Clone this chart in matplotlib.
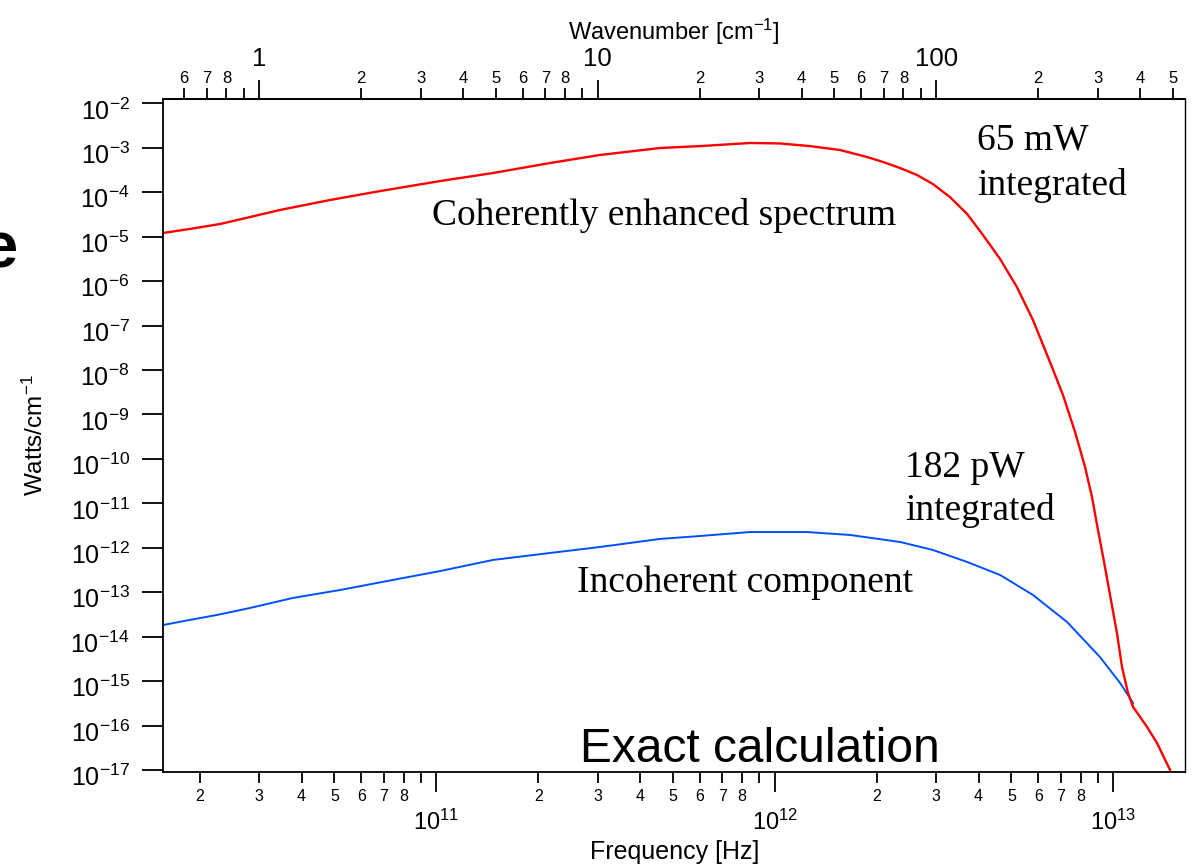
import numpy as np
import matplotlib
matplotlib.use("Agg")
import matplotlib.pyplot as plt
import matplotlib.transforms as mtransforms
from matplotlib.ticker import FuncFormatter, NullLocator

# values: frequency [Hz] and power [W/cm^-1]
freq_coh = [1.56e10, 1.87e10, 2.30e10, 2.82e10, 3.45e10, 4.85e10, 6.82e10, 1.03e11,
            1.47e11, 2.17e11, 3.04e11, 4.58e11, 6.01e11, 8.45e11, 1.036e12, 1.27e12,
            1.558e12, 1.873e12, 2.09e12, 2.344e12, 2.63e12, 2.93e12, 3.29e12, 3.70e12,
            4.12e12, 4.63e12, 5.19e12, 5.79e12, 6.50e12, 7.10e12, 7.71e12, 8.25e12,
            8.65e12, 9.01e12, 9.39e12, 9.78e12, 1.025e13, 1.061e13, 1.105e13, 1.144e13,
            1.258e13, 1.346e13, 1.471e13]
watts_coh = [1.21e-5, 1.49e-5, 1.93e-5, 2.77e-5, 3.98e-5, 6.67e-5, 1.06e-4, 1.79e-4,
             2.70e-4, 4.54e-4, 6.87e-4, 9.87e-4, 1.09e-3, 1.28e-3, 1.25e-3, 1.09e-3,
             8.90e-4, 6.19e-4, 4.78e-4, 3.50e-4, 2.44e-4, 1.53e-4, 7.80e-5, 3.24e-5,
             1.09e-5, 3.14e-6, 7.36e-7, 1.33e-7, 1.51e-8, 2.74e-9, 4.03e-10, 6.58e-11,
             1.39e-11, 2.51e-12, 4.80e-13, 8.67e-14, 1.21e-14, 2.08e-15, 5.41e-16, 2.62e-16,
             9.31e-17, 4.06e-17, 1.00e-17]

freq_inc = [1.56e10, 1.87e10, 2.25e10, 2.82e10, 3.77e10, 5.19e10, 7.45e10, 1.03e11,
            1.47e11, 2.17e11, 3.04e11, 4.58e11, 6.01e11, 8.45e11, 1.245e12, 1.67e12,
            2.344e12, 2.93e12, 3.70e12, 4.63e12, 5.79e12, 7.30e12, 9.13e12, 1.047e13,
            1.144e13]
watts_inc = [1.83e-14, 2.38e-14, 3.08e-14, 4.43e-14, 7.43e-14, 1.12e-13, 1.89e-13, 3.01e-13,
             5.32e-13, 7.64e-13, 1.04e-12, 1.58e-12, 1.84e-12, 2.26e-12, 2.26e-12, 1.94e-12,
             1.35e-12, 8.93e-13, 4.79e-13, 2.44e-13, 8.67e-14, 2.14e-14, 3.49e-15, 9.08e-16,
             3.22e-16]

# tick values
y_decades = list(range(-17, -1))
freq_decades = [10, 11, 12, 13]
wn_decades = [-1, 0, 1, 2]
c_cm = 2.998e10  # cm/s, Hz -> cm^-1

plt.rcParams['font.family'] = ['Liberation Sans', 'DejaVu Sans']
plt.rcParams['mathtext.fontset'] = 'custom'
plt.rcParams['mathtext.rm'] = 'Liberation Sans'
plt.rcParams['mathtext.it'] = 'Liberation Sans:italic'
plt.rcParams['mathtext.bf'] = 'Liberation Sans:bold'

W, H = 1192, 867
def px(x, y):
    return x / W, 1 - y / H

fig = plt.figure(figsize=(W / 100, H / 100), dpi=100)
ax = fig.add_axes([163 / W, 1 - 772 / H, (1185 - 163) / W, (772 - 99) / H])

ax.plot(freq_inc, watts_inc, color='#0050ff', lw=1.4)
ax.plot(freq_coh, watts_coh, color='#ff0000', lw=1.7)

ax.set_xscale('log')
ax.set_yscale('log')
xlo, xhi = 10 ** 10.1926, 10 ** 13.2118
ax.set_xlim(xlo, xhi)
ax.set_ylim(10 ** -17.045, 10 ** -1.903)

for s in ax.spines.values():
    s.set_linewidth(1.3)
ax.spines['right'].set_linewidth(1.0)


def decade_label(v, pos):
    return r'$\mathregular{10^{%d}}$' % int(round(np.log10(v)))


def mantissa_label(v, pos):
    m = v / 10 ** np.floor(np.log10(v) + 1e-9)
    m = int(round(m))
    if 2 <= m <= 8:
        return str(m)
    return ''


def log_ticks(decades, lo, hi):
    major = [10.0 ** d for d in decades if lo <= 10.0 ** d <= hi]
    minor = [m * 10.0 ** d for d in decades for m in range(2, 10) if lo <= m * 10.0 ** d <= hi]
    return major, minor


# bottom axis (frequency)
fmaj, fmin = log_ticks(freq_decades, xlo, xhi)
ax.set_xticks(fmaj)
ax.set_xticks(fmin, minor=True)
ax.xaxis.set_major_formatter(FuncFormatter(decade_label))
ax.xaxis.set_minor_formatter(FuncFormatter(mantissa_label))
ax.tick_params(axis='x', which='major', direction='out', length=14.5, width=1.3,
               labelsize=17, pad=13, top=False)
ax.tick_params(axis='x', which='minor', direction='out', length=8, width=1.3,
               labelsize=11.5, pad=4, top=False)

# left axis
ax.set_yticks([10.0 ** k for k in y_decades])
ax.yaxis.set_major_formatter(FuncFormatter(decade_label))
ax.yaxis.set_minor_locator(NullLocator())
ax.tick_params(axis='y', which='major', direction='out', length=15, width=1.3,
               labelsize=18, pad=9, right=False)
# labels sit a little below their ticks in the original
shift = mtransforms.ScaledTranslation(0, -4 / 72, fig.dpi_scale_trans)
for t in ax.yaxis.get_major_ticks():
    t.label1.set_transform(t.label1.get_transform() + shift)

# top axis (wavenumber)
sec = ax.secondary_xaxis('top', functions=(lambda f: f / c_cm, lambda k: k * c_cm))
kmaj, kmin = log_ticks(wn_decades, xlo / c_cm, xhi / c_cm)
sec.set_xticks(kmaj)
sec.set_xticks(kmin, minor=True)
sec.xaxis.set_major_formatter(FuncFormatter(lambda v, p: '%g' % round(v, 6)))
sec.xaxis.set_minor_formatter(FuncFormatter(mantissa_label))
sec.tick_params(axis='x', which='major', direction='out', length=13.5, width=1.3,
                labelsize=18.5, pad=7)
sec.tick_params(axis='x', which='minor', direction='out', length=8, width=1.3,
                labelsize=12, pad=1)
sec.spines['top'].set_linewidth(1.3)

# axis titles
fig.text(*px(674, 40), r'Wavenumber [cm$^{-1}$]', fontsize=17, ha='center', va='baseline')
fig.text(*px(675, 852), 'Frequency [Hz]', fontsize=18, ha='center', va='center')
fig.text(*px(35, 435), r'Watts/cm$^{-1}$', fontsize=17.5, rotation=90,
         ha='center', va='center')

# annotations
serif = ['Liberation Serif', 'DejaVu Serif']
fig.text(*px(432, 225), 'Coherently enhanced spectrum', fontsize=27, family=serif,
         va='baseline')
fig.text(*px(577, 592), 'Incoherent component', fontsize=27, family=serif, va='baseline')
fig.text(*px(977, 150), '65 mW', fontsize=27, family=serif, va='baseline')
fig.text(*px(977, 195), 'integrated', fontsize=27, family=serif, va='baseline')
fig.text(*px(905, 477), '182 pW', fontsize=27, family=serif, va='baseline')
fig.text(*px(905, 520), 'integrated', fontsize=27, family=serif, va='baseline')
fig.text(*px(580, 762), 'Exact calculation', fontsize=34.5, va='baseline')

# leftover letter cut off at the left edge of the slide
fig.text(*px(-19, 267), 'e', fontsize=47, weight='bold', va='baseline')

fig.savefig('out.png', dpi=100)
